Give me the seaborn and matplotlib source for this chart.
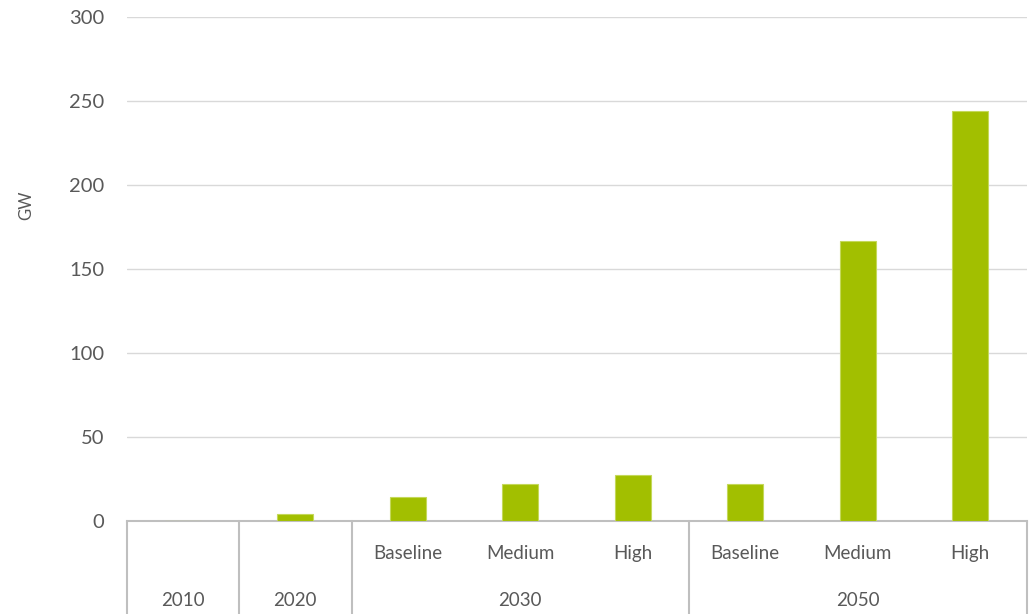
import matplotlib
matplotlib.use("Agg")
import matplotlib.pyplot as plt
import seaborn as sns
import pandas as pd

# Installed capacity by year / scenario
years = ["2010", "2020", "2030", "2030", "2030", "2050", "2050", "2050"]
scenarios = ["", "", "Baseline", "Medium", "High", "Baseline", "Medium", "High"]
capacity_gw = [0, 4, 14, 22.3, 27.6, 22.3, 166.5, 244]
y_ticks = [0, 50, 100, 150, 200, 250, 300]

sns.set_theme(style="white")
plt.rcParams["font.family"] = ["Lato", "DejaVu Sans"]

text_color = "#595959"
bar_color = "#A2BF00"
line_gray = "#BFBFBF"

df = pd.DataFrame({
    "slot": [f"{y}-{s}-{i}" for i, (y, s) in enumerate(zip(years, scenarios))],
    "gw": capacity_gw,
})

fig = plt.figure(figsize=(10.34, 6.14), dpi=100)
ax = fig.add_axes([126.5 / 1034, 93 / 614, 900 / 1034, 504 / 614])

sns.barplot(data=df, x="slot", y="gw", color=bar_color, width=0.32,
            edgecolor="#C4D85A", linewidth=0.8, saturation=1, ax=ax, zorder=3)

ax.set_ylim(0, 300)
ax.set_xlim(-0.5, len(capacity_gw) - 0.5)
ax.set_yticks(y_ticks)
ax.set_yticklabels([str(t) for t in y_ticks], fontsize=14.5, color=text_color)
ax.tick_params(axis="y", length=0, pad=16)
ax.set_xticks([])
ax.set_xlabel("")
ax.set_ylabel("GW", fontsize=12, color=text_color)
ax.yaxis.set_label_coords(-0.103, 0.627)

for t in y_ticks[1:]:
    ax.axhline(t, color="#D9D9D9", lw=1.0, zorder=1)

for side in ["top", "right", "left"]:
    ax.spines[side].set_visible(False)
ax.spines["bottom"].set_color(line_gray)
ax.spines["bottom"].set_linewidth(1.5)

# Category table below the axis
trans = ax.get_xaxis_transform()
for i, s in enumerate(scenarios):
    if s:
        ax.text(i, -0.0635, s, transform=trans, ha="center", va="center",
                fontsize=13.5, color=text_color)

group_spans = []
for i, y in enumerate(years):
    if group_spans and group_spans[-1][0] == y:
        group_spans[-1][2] = i
    else:
        group_spans.append([y, i, i])

for label, start, end in group_spans:
    ax.text((start + end) / 2, -0.157, label, transform=trans, ha="center",
            va="center", fontsize=13.5, color=text_color)

boundaries = [group_spans[0][1] - 0.5] + [end + 0.5 for _, _, end in group_spans]
for b in boundaries:
    ax.plot([b, b], [0, -0.25], transform=trans, color=line_gray, lw=1.5,
            clip_on=False, zorder=2)

fig.savefig("out.png", dpi=100, facecolor="white")
